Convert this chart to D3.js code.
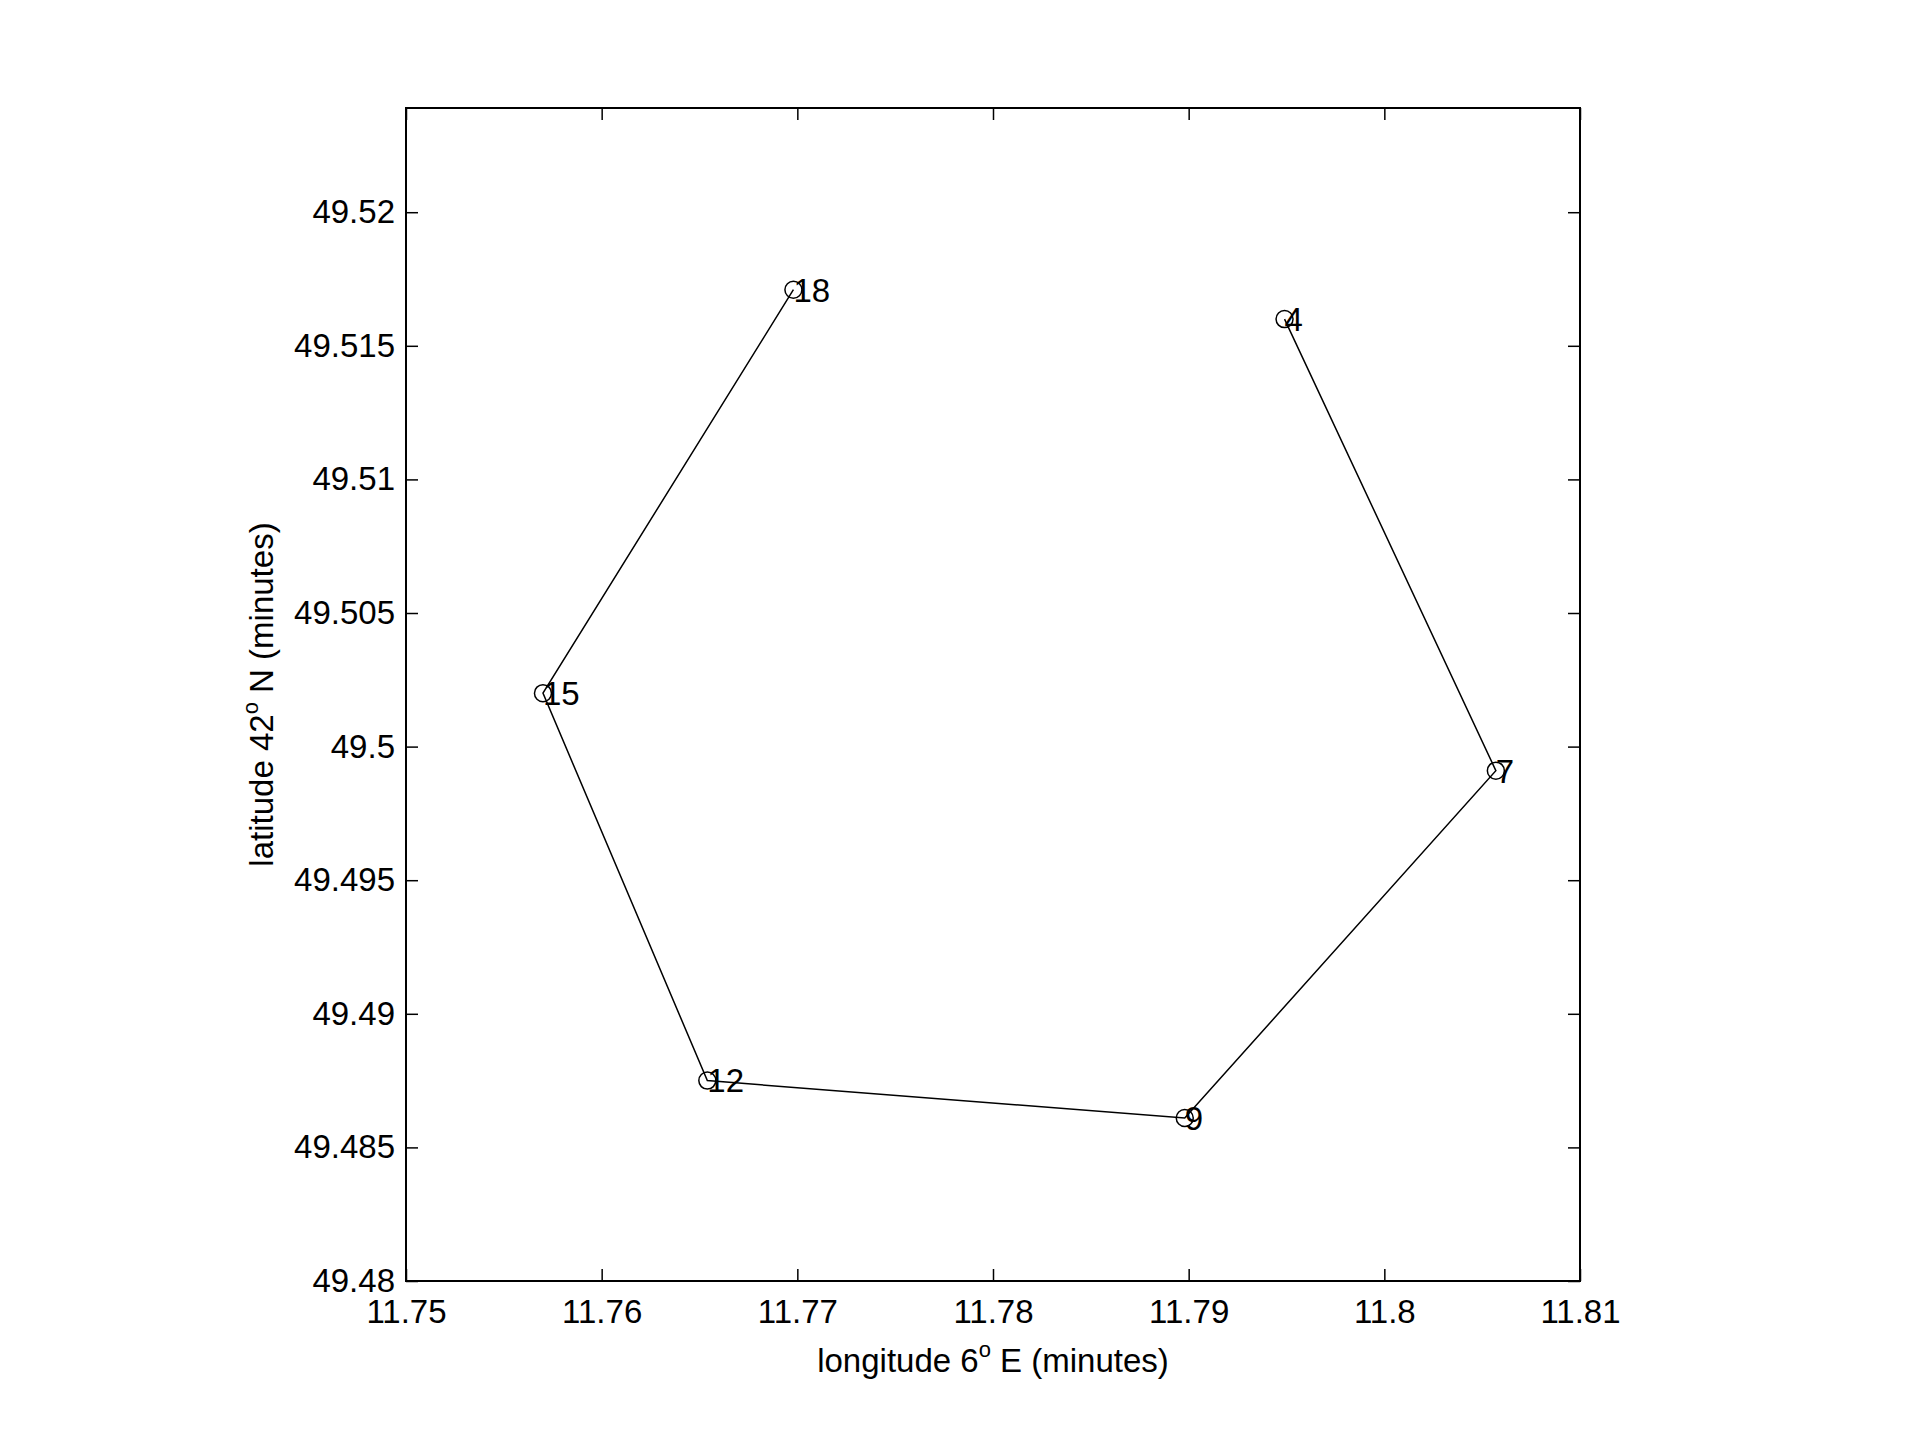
<!DOCTYPE html>
<html>
<head>
<meta charset="utf-8">
<script src="https://cdnjs.cloudflare.com/ajax/libs/d3/7.8.5/d3.min.js"></script>
<style>
  html, body { margin: 0; padding: 0; background: #fff; }
  svg text { font-family: "Liberation Sans", Arial, sans-serif; fill: #000; }
</style>
</head>
<body>
<div id="target"></div>
<script>
var WIDTH = 1920;
var HEIGHT = 1440;

// station labels and positions (minutes)
var stations = ["4", "7", "9", "12", "15", "18"];
var lon = [11.7949, 11.8057, 11.7898, 11.7654, 11.7570, 11.7698];
var lat = [49.5160, 49.4991, 49.4861, 49.4875, 49.5020, 49.5171];

var xTicks = [11.75, 11.76, 11.77, 11.78, 11.79, 11.8, 11.81];
var yTicks = [49.48, 49.485, 49.49, 49.495, 49.5, 49.505, 49.51, 49.515, 49.52];

var xDomain = [11.75, 11.81];
var yDomain = [49.48, 49.5239];

var margin = {left: 406, top: 108, right: 1920 - 1580, bottom: 1440 - 1281};
var plotW = WIDTH - margin.left - margin.right;
var plotH = HEIGHT - margin.top - margin.bottom;

var FONT = 33;

var svg = d3.select("#target").append("svg").attr("width", WIDTH).attr("height", HEIGHT);
var g = svg.append("g").attr("transform", "translate(" + margin.left + "," + margin.top + ")");

var x = d3.scaleLinear().domain(xDomain).range([0, plotW]);
var y = d3.scaleLinear().domain(yDomain).range([plotH, 0]);

var fmt = function(d) { return String(+d.toFixed(4)); };
var TICK = 12;

// ticks on all four sides, pointing inward
g.append("g").attr("transform", "translate(0," + plotH + ")")
  .call(d3.axisBottom(x).tickValues(xTicks).tickFormat(fmt).tickSizeInner(-TICK).tickSizeOuter(0).tickPadding(19));
g.append("g")
  .call(d3.axisTop(x).tickValues(xTicks).tickFormat("").tickSizeInner(-TICK).tickSizeOuter(0));
g.append("g")
  .call(d3.axisLeft(y).tickValues(yTicks).tickFormat(fmt).tickSizeInner(-TICK).tickSizeOuter(0).tickPadding(11));
g.append("g").attr("transform", "translate(" + plotW + ",0)")
  .call(d3.axisRight(y).tickValues(yTicks).tickFormat("").tickSizeInner(-TICK).tickSizeOuter(0));

g.selectAll(".domain").remove();
g.selectAll(".tick line").attr("stroke", "#000").attr("stroke-width", 1.5);
g.selectAll(".tick text").attr("font-size", FONT).attr("fill", "#000");

g.append("rect")
  .attr("x", 0).attr("y", 0)
  .attr("width", plotW).attr("height", plotH)
  .attr("fill", "none").attr("stroke", "#000").attr("stroke-width", 2);

var pts = stations.map(function(s, i) { return {name: s, lon: lon[i], lat: lat[i]}; });

var line = d3.line()
  .x(function(d) { return x(d.lon); })
  .y(function(d) { return y(d.lat); });

g.append("path")
  .attr("d", line(pts))
  .attr("fill", "none")
  .attr("stroke", "#000")
  .attr("stroke-width", 1.5);

g.selectAll("circle.st")
  .data(pts)
  .enter()
  .append("circle")
  .attr("class", "st")
  .attr("cx", function(d) { return x(d.lon); })
  .attr("cy", function(d) { return y(d.lat); })
  .attr("r", 8.5)
  .attr("fill", "none")
  .attr("stroke", "#000")
  .attr("stroke-width", 1.5);

g.selectAll("text.lbl")
  .data(pts)
  .enter()
  .append("text")
  .attr("class", "lbl")
  .attr("x", function(d) { return x(d.lon); })
  .attr("y", function(d) { return y(d.lat); })
  .attr("dy", "0.36em")
  .attr("font-size", FONT)
  .text(function(d) { return d.name; });

// axis labels
var xl = svg.append("text")
  .attr("x", margin.left + plotW / 2)
  .attr("y", 1372)
  .attr("text-anchor", "middle")
  .attr("font-size", FONT);
xl.append("tspan").text("longitude 6");
xl.append("tspan").attr("font-size", 22).attr("dy", -15).text("o");
xl.append("tspan").attr("dy", 15).text(" E (minutes)");

var yl = svg.append("text")
  .attr("transform", "translate(273," + (margin.top + plotH / 2) + ") rotate(-90)")
  .attr("text-anchor", "middle")
  .attr("font-size", FONT);
yl.append("tspan").text("latitude 42");
yl.append("tspan").attr("font-size", 22).attr("dy", -15).text("o");
yl.append("tspan").attr("dy", 15).text(" N (minutes)");
</script>
</body>
</html>
